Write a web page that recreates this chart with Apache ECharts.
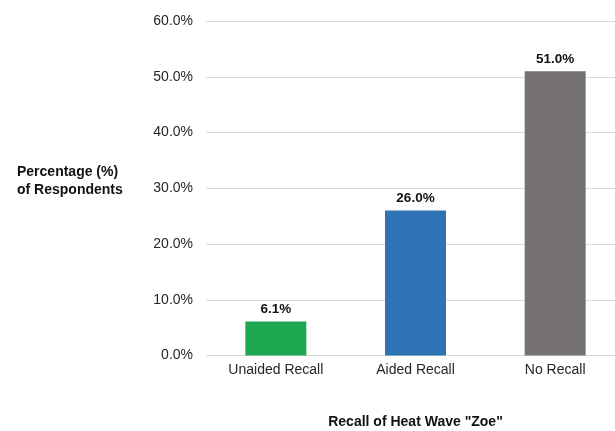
<!DOCTYPE html>
<html>
<head>
<meta charset="utf-8">
<script src="https://cdn.jsdelivr.net/npm/echarts@6/dist/echarts.min.js"></script>
<style>
  html, body { margin: 0; padding: 0; background: #fff; overflow: hidden; }
  #chart { width: 615px; height: 431px; }
</style>
</head>
<body>
<div id="chart"></div>
<script>
const categories = ['Unaided Recall', 'Aided Recall', 'No Recall'];
const values = [6.1, 26.0, 51.0];
const barColors = ['#1ba64f', '#2e74b5', '#767171'];
const yTicks = { min: 0, max: 60, interval: 10 };

const font = '"Liberation Sans", Arial, sans-serif';
const chart = echarts.init(document.getElementById('chart'));

chart.setOption({
  animation: false,
  grid: {
    left: 206, top: 21, width: 419, height: 334.5,
    containLabel: false,
    outerBoundsMode: 'none'
  },
  xAxis: {
    type: 'category',
    data: categories,
    axisLine: { show: false },
    axisTick: { show: false },
    axisLabel: { color: '#262626', fontSize: 14, fontFamily: font, margin: 8 },
    name: 'Recall of Heat Wave "Zoe"',
    nameLocation: 'middle',
    nameGap: 60,
    nameTextStyle: { color: '#111', fontSize: 14, fontWeight: 'bold', fontFamily: font }
  },
  yAxis: {
    type: 'value',
    min: yTicks.min,
    max: yTicks.max,
    interval: yTicks.interval,
    axisLine: { show: false },
    axisTick: { show: false },
    splitLine: { lineStyle: { color: '#d9d9d9', width: 1 } },
    axisLabel: {
      color: '#262626', fontSize: 14, fontFamily: font, margin: 13,
      formatter: v => v.toFixed(1) + '%'
    }
  },
  graphic: [{
    type: 'text',
    left: 17,
    top: 163,
    style: {
      text: 'Percentage (%)\nof Respondents',
      fill: '#111',
      font: 'bold 14px ' + font,
      lineHeight: 18
    }
  }],
  series: [{
    type: 'bar',
    barWidth: 61,
    data: values.map((v, i) => ({ value: v, itemStyle: { color: barColors[i] } })),
    label: {
      show: true,
      position: 'top',
      distance: 5,
      color: '#111',
      fontSize: 13.5,
      fontWeight: 'bold',
      fontFamily: font,
      formatter: p => p.value.toFixed(1) + '%'
    }
  }]
});
</script>
</body>
</html>
